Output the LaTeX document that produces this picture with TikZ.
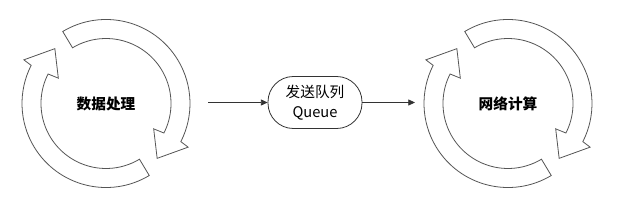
\documentclass[tikz,border=0pt]{standalone}
\usepackage{fontspec}
\setmainfont{Noto Sans CJK SC}
\usetikzlibrary{arrows.meta,positioning}
\definecolor{ring}{HTML}{555555}
\definecolor{ink}{HTML}{333333}
\tikzset{
  ringarrow/.style={draw=ring, line width=0.6pt, fill=white, line join=miter},
  cyclelabel/.style={font=\fontsize{11}{13}\selectfont\bfseries, text=black},
  queuebox/.style={draw=ink, rounded corners=19pt, line width=0.6pt, align=center,
    minimum width=70.5pt, minimum height=39pt, font=\fontsize{11}{15.5}\selectfont},
  arr/.style={-{Triangle[length=5pt,width=4.5pt]}, line width=0.6pt, draw=ink}
}
\begin{document}
\begin{tikzpicture}[x=0.75pt,y=0.75pt]
  \useasboundingbox (0,0) rectangle (618,200);
  \node[cyclelabel] (data) at (106,96.5) {数据处理};
  \node[cyclelabel] (net) at (508,96.5) {网络计算};
  \node[queuebox] (queue) at (315,97.5) {发送队列\\Queue};
  \coordinate (from) at (208,97.5);
  \coordinate (to) at (415,97.5);
  % two ring arrows around each label
  \foreach \c in {data,net}
    \foreach \r in {0,180}
      \draw[ringarrow, shift={(\c)}, rotate=\r]
        (121:84) arc[start angle=121, end angle=-27, radius=84]
        -- (-28:93) -- (-47:75) -- (-28:54)
        -- (-27:65) arc[start angle=-27, end angle=121, radius=65] -- cycle;
  \draw[arr] (from) -- (queue);
  \draw[arr] (queue) -- (to);
\end{tikzpicture}
\end{document}
